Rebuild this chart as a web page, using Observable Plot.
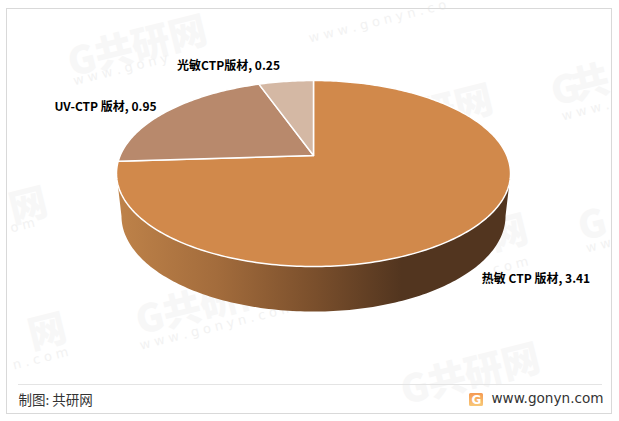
<!DOCTYPE html>
<html>
<head>
<meta charset="utf-8">
<style>html,body{margin:0;padding:0;background:#fff}svg{display:block}</style>
<script src="https://cdn.jsdelivr.net/npm/d3@7"></script>
<script src="https://cdn.jsdelivr.net/npm/@observablehq/plot@0.6"></script>
</head>
<body>
<div id="chart"></div>
<script>
const categories = ["热敏 CTP 版材", "UV-CTP 版材", "光敏CTP版材"];
const values = [3.41, 0.95, 0.25];
const colors = ["#D1894B", "#B8896C", "#D4B8A4"];
const labelAnchors = [[535.5, 279], [105, 107], [228, 66]];
const watermarkBig = [
  ["G共研网", 137, 47], ["网", 47, 332], ["网", 28, 206], ["G", 565, 90], ["共", 590, 83], ["G", 592, 225],
  ["研网", 455, 108], ["研网", 490, 238], ["G共研网", 205, 305], ["G共研网", 470, 375]
];
const watermarkSmall = [
  ["w w w . g o n y", 120, 69], ["w w w . g o n y n . c o", 377, 21], ["w w w .", 585, 110], ["w w", 598, 245],
  ["w w w . g o n y n . c o m", 216, 326], ["n . c o m", 40, 358], ["o m", 22, 225], ["c o m", 510, 265]
];

// perspective view of the pie's disc
const topFace = {x0: 313, y0: 155, a: 193.3, b: 89.5, k: 0.1935};
const baseFace = {x0: 313, y0: 197, a: 188.4, b: 92, k: 0.1935};
const project = (f, r, t) => {
  const x = r * Math.sin(t), d = r * Math.cos(t), w = 1 + f.k * d;
  return {x: f.x0 + f.a * x / w, y: f.y0 - f.b * d / w};
};
const step = Math.PI / 180;
const arcPts = (f, a0, a1) => d3.range(a0, a1, step).concat([a1]).map(t => project(f, 1, t));

const arcs = d3.pie().sort(null)(values);
const slices = arcs.map((a, i) => {
  const pts = [project(topFace, 0, 0), ...arcPts(topFace, a.startAngle, a.endAngle), project(topFace, 0, 0)];
  return {pts, color: colors[i]};
});

// visible wall: the front half between the two faces' widest points
const tMax = Math.acos(-topFace.k);
const wall = [
  ...arcPts(topFace, tMax, 2 * Math.PI - tMax),
  ...arcPts(baseFace, tMax, 2 * Math.PI - tMax).reverse()
];

const defs = () => {
  const ns = "http://www.w3.org/2000/svg";
  const d = document.createElementNS(ns, "defs");
  d.innerHTML = `
   <linearGradient id="wallGrad" gradientUnits="userSpaceOnUse" x1="118" x2="511" y1="0" y2="0">
     <stop offset="0" stop-color="#BE8249"/>
     <stop offset="0.25" stop-color="#A36C3C"/>
     <stop offset="0.5" stop-color="#7A4F2C"/>
     <stop offset="0.72" stop-color="#52351F"/>
     <stop offset="1" stop-color="#52351F"/>
   </linearGradient>
   <linearGradient id="logoGrad" x1="0" x2="0" y1="0" y2="1">
     <stop offset="0" stop-color="#F59A52"/>
     <stop offset="1" stop-color="#F8C878"/>
   </linearGradient>`;
  return d;
};

const fontCJK = "'Noto Sans CJK SC','DejaVu Sans',sans-serif";
const chart = Plot.plot({
  width: 619, height: 421,
  marginTop: 0, marginRight: 0, marginBottom: 0, marginLeft: 0,
  x: {domain: [0, 619], range: [0, 619], axis: null},
  y: {domain: [0, 421], range: [0, 421], axis: null},
  style: {background: "#fff", fontFamily: fontCJK},
  marks: [
    defs,
    Plot.text(watermarkBig, {x: d => d[1], y: d => d[2], text: d => d[0], rotate: -14,
      fontSize: 38, fontWeight: 900, fill: "#F7F7F7"}),
    Plot.text(watermarkSmall, {x: d => d[1], y: d => d[2], text: d => d[0], rotate: -14,
      fontSize: 13, fill: "#F2F2F2", fontFamily: "'DejaVu Sans'"}),
    Plot.rect([{}], {x1: () => 6.5, x2: () => 611.5, y1: () => 8.5, y2: () => 413.5, fill: "none", stroke: "#D9D9D9", strokeWidth: 1}),
    Plot.line(wall.concat(wall[0]), {x: "x", y: "y", fill: "url(#wallGrad)", stroke: "none"}),
    ...slices.map(s => Plot.line(s.pts, {x: "x", y: "y", fill: s.color, stroke: "#fff", strokeWidth: 1.5, strokeLinejoin: "round"})),
    Plot.text(categories, {x: (d, i) => labelAnchors[i][0], y: (d, i) => labelAnchors[i][1],
      text: (d, i) => `${d}, ${values[i].toFixed(2)}`, fontSize: 12, fontWeight: 700, fill: "#000"}),
    Plot.ruleY([384], {x1: 18, x2: 602, stroke: "#E4E4E4", strokeWidth: 1}),
    Plot.text(["制图: 共研网"], {x: () => 18, y: () => 400, textAnchor: "start", fontSize: 13.5, fill: "#333"}),
    Plot.rect([{}], {x1: () => 469, x2: () => 483, y1: () => 393, y2: () => 406, fill: "url(#logoGrad)", r: 1.5}),
    Plot.text(["G"], {x: () => 476, y: () => 399.5, fontSize: 12, fontWeight: 900, fill: "#fff", fontFamily: "'DejaVu Sans'"}),
    Plot.text(["www.gonyn.com"], {x: () => 603, y: () => 398, textAnchor: "end", fontSize: 13.6, fill: "#333", fontFamily: "'DejaVu Sans'"})
  ]
});
document.getElementById("chart").append(chart);
</script>
</body>
</html>
